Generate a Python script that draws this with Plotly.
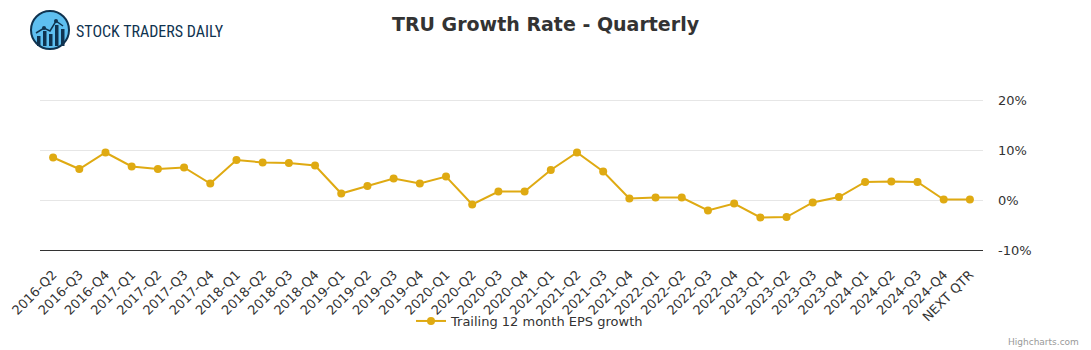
import plotly.graph_objects as go

categories = ["2016-Q2", "2016-Q3", "2016-Q4",
              "2017-Q1", "2017-Q2", "2017-Q3", "2017-Q4",
              "2018-Q1", "2018-Q2", "2018-Q3", "2018-Q4",
              "2019-Q1", "2019-Q2", "2019-Q3", "2019-Q4",
              "2020-Q1", "2020-Q2", "2020-Q3", "2020-Q4",
              "2021-Q1", "2021-Q2", "2021-Q3", "2021-Q4",
              "2022-Q1", "2022-Q2", "2022-Q3", "2022-Q4",
              "2023-Q1", "2023-Q2", "2023-Q3", "2023-Q4",
              "2024-Q1", "2024-Q2", "2024-Q3", "2024-Q4",
              "NEXT QTR"]
eps_growth = [8.5, 6.2, 9.5,
              6.7, 6.2, 6.5, 3.3,
              8.0, 7.5, 7.4, 6.9,
              1.3, 2.8, 4.3, 3.3,
              4.7, -0.9, 1.7, 1.7,
              6.0, 9.5, 5.7, 0.3,
              0.5, 0.5, -2.1, -0.7,
              -3.5, -3.4, -0.5, 0.6,
              3.6, 3.7, 3.6, 0.1,
              0.1]
y_ticks = [-10, 0, 10, 20]

W, H = 1091, 350
L, R, T, B = 40, 983, 97, 250
Y_MIN, Y_MAX = -10, 20.6

def px(x):
    return (x - L) / (R - L)

def py(y):
    return (B - y) / (B - T)

line_color = "#DFAA12"

fig = go.Figure()
fig.add_trace(go.Scatter(
    x=categories, y=eps_growth, mode="lines+markers",
    name="Trailing 12 month EPS growth",
    line=dict(color=line_color, width=2),
    marker=dict(color=line_color, size=8),
))

shapes = []
# logo circle
shapes.append(dict(type="circle", xref="paper", yref="paper",
                   x0=px(31), x1=px(69), y0=py(49), y1=py(11),
                   fillcolor="#5ebff0", line=dict(color="#0f3350", width=2)))
# bars inside logo
for (bx, top) in [(37, 36), (43, 31), (49, 34), (55, 25), (61, 29)]:
    shapes.append(dict(type="rect", xref="paper", yref="paper",
                       x0=px(bx), x1=px(bx + 3.5), y0=py(46), y1=py(top),
                       fillcolor="#0f3350", line=dict(width=0)))
shapes.append(dict(type="path", xref="paper", yref="paper",
                   path=f"M {px(36)},{py(33)} L {px(44)},{py(28)} L {px(50)},{py(31)} L {px(56)},{py(21)} L {px(63)},{py(26)}",
                   line=dict(color="#0f3350", width=1.5)))
for cx, cy in [(44, 28), (56, 21)]:
    shapes.append(dict(type="circle", xref="paper", yref="paper",
                       x0=px(cx - 2), x1=px(cx + 2), y0=py(cy + 2), y1=py(cy - 2),
                       fillcolor="#0f3350", line=dict(width=0)))

annotations = [
    dict(text="STOCK TRADERS DAILY", xref="paper", yref="paper",
         x=px(74), y=py(31), xanchor="left", yanchor="middle", showarrow=False,
         font=dict(family="Liberation Sans Narrow, Roboto Condensed, Arial Narrow, sans-serif",
                   size=16, color="#0f3350")),
    dict(text="Highcharts.com", xref="paper", yref="paper",
         x=px(1081), y=py(342), xanchor="right", yanchor="middle", showarrow=False,
         font=dict(family="DejaVu Sans, sans-serif", size=9, color="#999999")),
]

fig.update_layout(
    width=W, height=H,
    margin=dict(l=L, r=W - R, t=T, b=H - B, pad=0),
    paper_bgcolor="white", plot_bgcolor="white",
    title=dict(text="<b>TRU Growth Rate - Quarterly</b>", x=0.5, xref="container",
               xanchor="center", y=1 - 24 / H, yanchor="middle",
               font=dict(family="DejaVu Sans, sans-serif", size=19, color="#333333")),
    font=dict(family="DejaVu Sans, sans-serif", size=13, color="#333333"),
    showlegend=True,
    legend=dict(orientation="h", x=px(411), xanchor="left", y=py(321), yanchor="middle",
                font=dict(size=13, color="#333333"), bgcolor="rgba(0,0,0,0)"),
    shapes=shapes,
    annotations=annotations,
)
fig.update_xaxes(type="category", tickangle=-45, showgrid=False,
                 showline=True, linecolor="#333333", linewidth=1,
                 ticks="", tickfont=dict(size=13, color="#333333"),
                 ticklabelstandoff=11, automargin=False,
                 range=[-0.5, len(categories) - 0.5])
fig.update_yaxes(side="right", range=[Y_MIN, Y_MAX], tickvals=y_ticks,
                 ticktext=[f"{v}%" for v in y_ticks],
                 showgrid=True, gridcolor="#e6e6e6", gridwidth=1,
                 zeroline=False, showline=False, ticks="",
                 ticklabelstandoff=14, automargin=False,
                 tickfont=dict(size=13, color="#333333"))

fig.write_html("out.html")
